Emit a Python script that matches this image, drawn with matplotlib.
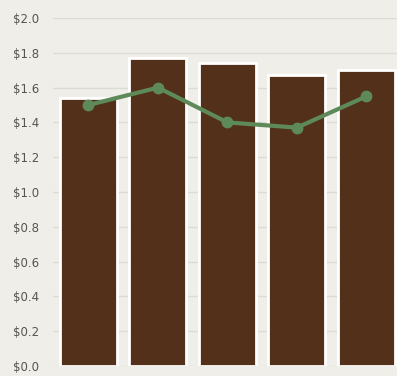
import matplotlib
matplotlib.use("Agg")
import matplotlib.pyplot as plt

# values
categories = ["A", "B", "C", "D", "E"]
bar_values = [1.54, 1.77, 1.74, 1.67, 1.70]
line_values = [1.50, 1.60, 1.40, 1.37, 1.55]
yticks = [0.0, 0.2, 0.4, 0.6, 0.8, 1.0, 1.2, 1.4, 1.6, 1.8, 2.0]

bg = "#efeee9"
plt.rcParams["font.family"] = ["DejaVu Sans"]

fig = plt.figure(figsize=(3.97, 3.76), dpi=100, facecolor=bg)
ax = fig.add_axes([53 / 397, 10 / 376, 1 - 53 / 397, 348 / 376])
ax.set_facecolor(bg)

x = range(len(categories))
ax.bar(x, bar_values, width=0.82, color="#52301a", edgecolor="white", linewidth=2, zorder=2)
ax.plot(x, line_values, color="#5e8a5a", linewidth=3, marker="o", markersize=7.5, zorder=3, clip_on=False)

ax.set_xlim(-0.51, 4.44)
ax.set_ylim(0, 2.0)
ax.set_yticks(yticks)
ax.set_yticklabels(["$%.1f" % v for v in yticks], fontsize=8.5, color="#555550")
ax.set_xticks([])
ax.tick_params(axis="y", length=0, pad=10)
ax.grid(axis="y", color="#dcdbd4", linewidth=1, zorder=0)
for s in ax.spines.values():
    s.set_visible(False)

fig.savefig("out.png", dpi=100, facecolor=bg)
